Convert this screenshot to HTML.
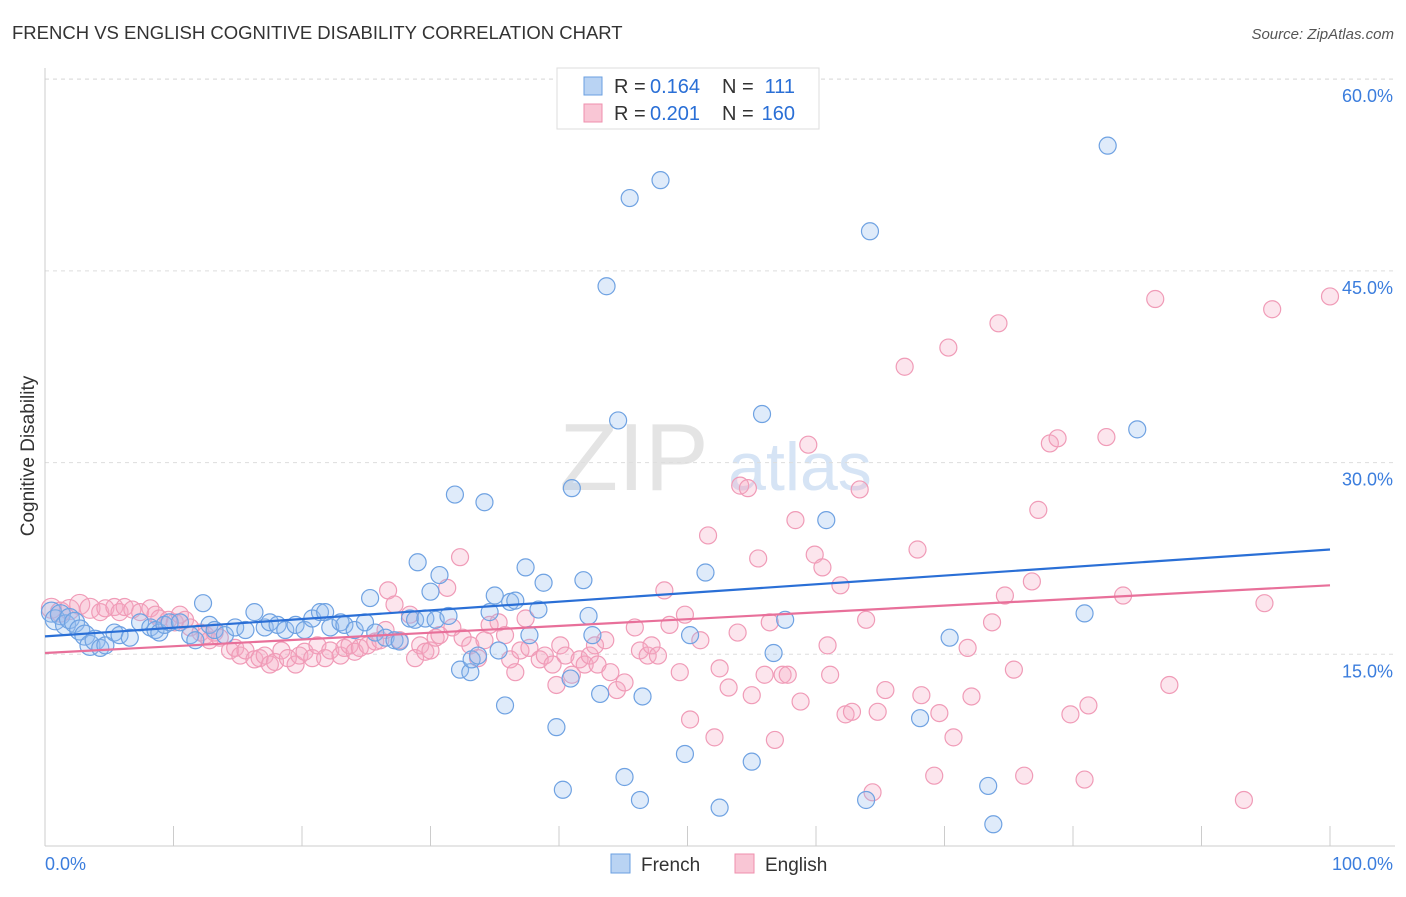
<!DOCTYPE html>
<html><head><meta charset="utf-8"><style>
body{margin:0;background:#fff;font-family:"Liberation Sans",sans-serif;}
svg text{font-family:"Liberation Sans",sans-serif;}
</style></head><body>
<svg id="chart" width="1406" height="892" viewBox="0 0 1406 892" xmlns="http://www.w3.org/2000/svg">
<text x="12" y="39" font-size="18.5" fill="#333">FRENCH VS ENGLISH COGNITIVE DISABILITY CORRELATION CHART</text>
<text x="1394" y="39" font-size="15" fill="#555" font-style="italic" text-anchor="end">Source: ZipAtlas.com</text>
<text x="634" y="490" font-size="96" fill="#e4e4e4" font-family="Liberation Serif" text-anchor="middle">ZIP</text>
<text x="800" y="490" font-size="68" fill="#d6e4f5" text-anchor="middle">atlas</text>
<g id="grid"></g>
<g id="axes"></g>
<g id="pts"></g>
<g id="trends"></g>
<text x="34" y="456" font-size="19" fill="#333" text-anchor="middle" transform="rotate(-90 34 456)">Cognitive Disability</text>
<g>
<rect x="557" y="68" width="262" height="61" fill="#fff" stroke="#ddd"/>
<rect x="584" y="77" width="18" height="18" fill="#b9d3f3" stroke="#6a9fe0"/>
<text x="614" y="93" font-size="20" fill="#333">R =</text>
<text x="650" y="93" font-size="20" fill="#2a6fd6">0.164</text>
<text x="722" y="93" font-size="20" fill="#333">N =</text>
<text x="795" y="93" font-size="20" fill="#2a6fd6" text-anchor="end">111</text>
<rect x="584" y="104" width="18" height="18" fill="#f9c6d5" stroke="#ef8fad"/>
<text x="614" y="120" font-size="20" fill="#333">R =</text>
<text x="650" y="120" font-size="20" fill="#2a6fd6">0.201</text>
<text x="722" y="120" font-size="20" fill="#333">N =</text>
<text x="795" y="120" font-size="20" fill="#2a6fd6" text-anchor="end">160</text>
</g>
<g>
<rect x="611" y="854" width="19" height="19" fill="#b9d3f3" stroke="#6a9fe0"/>
<text x="641" y="871" font-size="19" fill="#333">French</text>
<rect x="735" y="854" width="19" height="19" fill="#f9c6d5" stroke="#ef8fad"/>
<text x="765" y="871" font-size="19" fill="#333">English</text>
</g>
</svg>
<script>
const xTicks=[0,10,20,30,40,50,60,70,80,90,100];
const yTicks=[15,30,45,60];
const yTickLabels=["15.0%","30.0%","45.0%","60.0%"];
const frenchX=[0.5,0.8,1.2,1.6,1.9,2.3,2.7,3.1,3.5,3.9,4.3,4.7,5.4,5.8,6.6,7.4,8.2,8.6,8.9,9.3,9.7,10.5,11.3,11.7,12.3,12.8,13.2,14.0,14.8,15.6,16.3,17.1,17.5,18.1,18.7,19.5,20.2,20.8,21.4,21.8,22.2,23.0,23.3,24.1,24.9,25.3,25.7,26.5,27.2,27.6,28.4,28.8,29.0,29.6,30.0,30.4,30.7,31.4,31.9,32.3,33.1,33.2,33.7,34.2,34.6,35.0,35.3,35.8,36.2,36.6,37.4,37.7,38.4,38.8,39.8,40.3,40.9,41.0,41.9,42.3,42.6,43.2,43.7,44.6,45.1,45.5,46.3,46.5,47.9,49.8,50.2,51.4,52.5,55.0,55.8,56.7,57.6,60.8,64.2,63.9,68.1,70.4,73.4,73.8,80.9,82.7,85.0];
const frenchY=[18.3,17.7,18.1,17.3,17.8,17.5,16.9,16.5,15.7,16.1,15.5,15.7,16.7,16.5,16.3,17.5,17.1,16.9,16.7,17.3,17.5,17.5,16.5,16.1,19.0,17.3,16.9,16.5,17.1,16.9,18.3,17.1,17.5,17.3,16.9,17.3,16.9,17.8,18.3,18.3,17.1,17.5,17.3,16.9,17.5,19.4,16.7,16.3,16.1,16.0,17.8,17.7,22.2,17.8,19.9,17.7,21.2,18.0,27.5,13.8,13.6,14.6,14.9,26.9,18.3,19.6,15.3,11.0,19.1,19.2,21.8,16.5,18.5,20.6,9.3,4.4,13.1,28.0,20.8,18.0,16.5,11.9,43.8,33.3,5.4,50.7,3.6,11.7,52.1,7.2,16.5,21.4,3.0,6.6,33.8,15.1,17.7,25.5,48.1,3.6,10.0,16.3,4.7,1.7,18.2,54.8,32.6];
const englishX=[0.5,1.2,1.9,2.7,3.5,4.3,4.7,5.4,5.8,6.2,6.8,7.4,8.2,8.6,8.9,9.6,10.1,10.5,10.9,11.3,12.1,12.5,12.8,13.2,13.6,14.4,14.8,15.2,15.6,16.3,16.7,17.1,17.5,17.9,18.4,18.9,19.5,19.8,20.2,20.8,21.2,21.8,22.2,23.0,23.3,23.7,24.1,24.5,25.1,25.7,26.1,26.5,26.7,27.2,27.6,28.4,28.8,29.2,29.6,30.0,30.4,30.7,31.3,31.7,32.3,32.5,33.1,33.7,34.2,34.6,35.3,35.8,36.2,36.6,37.0,37.4,37.7,38.5,38.9,39.5,39.8,40.1,40.5,41.0,41.6,42.0,42.4,42.8,43.0,43.6,44.0,44.5,45.1,45.9,46.3,46.9,47.2,47.7,48.2,48.6,49.4,49.8,50.2,51.0,51.6,52.1,52.5,53.2,53.9,54.1,54.7,55.0,55.5,56.0,56.4,56.8,57.4,57.8,58.4,58.8,59.4,59.9,60.5,60.9,61.1,61.9,62.3,62.8,63.4,63.9,64.4,64.8,65.4,66.9,67.9,68.2,69.6,70.3,70.7,71.8,72.1,73.7,74.2,74.7,75.4,76.2,76.8,77.3,78.2,78.8,79.8,80.9,81.2,82.6,83.9,86.4,87.5,93.3,94.9,95.5,100.0,69.2];
const englishY=[18.6,18.3,18.5,18.9,18.6,18.3,18.6,18.7,18.3,18.7,18.5,18.3,18.6,18.1,17.8,17.7,17.5,18.1,17.7,17.1,16.7,16.5,16.1,16.7,16.3,15.3,15.5,14.9,15.3,14.6,14.7,14.9,14.2,14.4,15.3,14.7,14.2,14.9,15.2,14.7,15.7,14.7,15.3,14.9,15.5,15.7,15.2,15.5,15.7,16.0,16.1,16.9,20.0,18.9,16.1,18.1,14.7,15.7,15.2,15.3,16.3,16.5,20.2,17.1,22.6,16.3,15.7,14.7,16.1,17.3,17.5,16.5,14.6,13.6,15.3,17.8,15.5,14.6,14.9,14.2,12.6,15.7,14.9,13.4,14.6,14.2,14.9,15.7,14.2,16.1,13.6,12.2,12.8,17.1,15.3,14.9,15.7,14.9,20.0,17.3,13.6,18.1,9.9,16.1,24.3,8.5,13.9,12.4,16.7,28.2,28.0,11.8,22.5,13.4,17.5,8.3,13.4,13.4,25.5,11.3,31.4,22.8,21.8,15.7,13.4,20.4,10.3,10.5,27.9,17.7,4.2,10.5,12.2,37.5,23.2,11.8,10.4,39.0,8.5,15.5,11.7,17.5,40.9,19.6,13.8,5.5,20.7,26.3,31.5,31.9,10.3,5.2,11.0,32.0,19.6,42.8,12.6,3.6,19.0,42.0,43.0,5.5];
const frenchTrend=[16.4,23.2];
const englishTrend=[15.1,20.4];
const NS="http://www.w3.org/2000/svg";
const X=v=>45+v*12.85;
const Y=v=>846-v*12.78;
function mk(tag,attrs,parent){const e=document.createElementNS(NS,tag);for(const k in attrs)e.setAttribute(k,attrs[k]);parent.appendChild(e);return e;}
const grid=document.getElementById('grid'),axes=document.getElementById('axes'),pts=document.getElementById('pts'),tr=document.getElementById('trends');
yTicks.forEach((t,i)=>{
  const l=mk('line',{x1:45,x2:1395,y1:Y(t),y2:Y(t),stroke:'#ddd','stroke-dasharray':'4,4'},grid);
  
  
  const tx=mk('text',{x:1393,y:Y(t)+23,'font-size':18,fill:'#3b7ddd','text-anchor':'end'},axes);
  tx.textContent=yTickLabels[i];
  
  
});
const topL=mk('line',{x1:45,x2:1395,y1:79,y2:79,stroke:'#ddd','stroke-dasharray':'4,4'},grid);


const ya=mk('line',{x1:45,x2:45,y1:68,y2:846,stroke:'#ccc'},axes);


const xa=mk('line',{x1:45,x2:1395,y1:846,y2:846,stroke:'#ccc'},axes);


xTicks.forEach(t=>{
  const l=mk('line',{x1:X(t),x2:X(t),y1:826,y2:846,stroke:'#ccc'},axes);
  
  
});
const xl0=mk('text',{x:45,y:870,'font-size':18,fill:'#3b7ddd'},axes);xl0.textContent='0.0%';


const xl1=mk('text',{x:1393,y:870,'font-size':18,fill:'#3b7ddd','text-anchor':'end'},axes);xl1.textContent='100.0%';


englishX.forEach((v,i)=>{
  const c=mk('circle',{cx:X(v),cy:Y(englishY[i]),r:v<4?10:8.5,fill:'rgba(246,170,196,0.3)',stroke:'#f09bb7','stroke-width':1.2},pts);
  
  
});
frenchX.forEach((v,i)=>{
  const c=mk('circle',{cx:X(v),cy:Y(frenchY[i]),r:v<4?10:8.5,fill:'rgba(150,190,240,0.3)',stroke:'#6fa2e2','stroke-width':1.2},pts);
  
  
});
const fl=mk('line',{x1:X(0),x2:X(100),y1:Y(frenchTrend[0]),y2:Y(frenchTrend[1]),stroke:'#2a6fd6','stroke-width':2.2},tr);


const el=mk('line',{x1:X(0),x2:X(100),y1:Y(englishTrend[0]),y2:Y(englishTrend[1]),stroke:'#e8709a','stroke-width':2.2},tr);


</script>
</body></html>
